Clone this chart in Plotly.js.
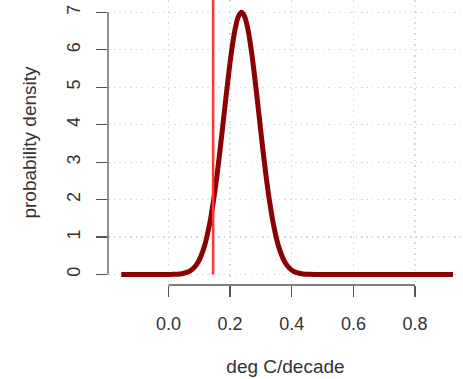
<!DOCTYPE html>
<html>
<head>
<meta charset="utf-8">
<script src="https://cdn.plot.ly/plotly-3.0.1.min.js"></script>
<style>html,body{margin:0;padding:0;background:#fff;}#chart{width:463px;height:379px;}</style>
</head>
<body>
<div id="chart"></div>
<script>
// Density curve
const xVals = [-0.153, -0.003, 0.017, 0.037, 0.047, 0.057, 0.067, 0.077, 0.087, 0.097, 0.107, 0.117, 0.127, 0.137, 0.147, 0.157, 0.167, 0.177, 0.187, 0.197, 0.207, 0.217, 0.227, 0.237, 0.247, 0.257, 0.267, 0.277, 0.287, 0.297, 0.307, 0.317, 0.327, 0.337, 0.347, 0.357, 0.367, 0.377, 0.387, 0.397, 0.407, 0.417, 0.427, 0.437, 0.457, 0.477, 0.923];
const density = [0, 0.001, 0.004, 0.015, 0.027, 0.048, 0.082, 0.136, 0.22, 0.34, 0.52, 0.76, 1.09, 1.50, 2.01, 2.61, 3.29, 4.02, 4.76, 5.47, 6.09, 6.58, 6.89, 7.0, 6.89, 6.58, 6.09, 5.47, 4.76, 4.02, 3.29, 2.61, 2.01, 1.50, 1.09, 0.76, 0.52, 0.34, 0.22, 0.136, 0.082, 0.048, 0.027, 0.015, 0.004, 0.001, 0];
const markerX = 0.145;
const markerY = [0, 8];
const xTicks = [0, 0.2, 0.4, 0.6, 0.8];
const xTickText = ["0.0", "0.2", "0.4", "0.6", "0.8"];
const yTicks = [0, 1, 2, 3, 4, 5, 6, 7];
const yTickText = ["0", "1", "2", "3", "4", "5", "6", "7"];
const xTitle = "deg C/decade";
const yTitle = "probability density";

const FONT = "Liberation Sans, Arial, sans-serif";
const axisColor = "#555";
const textColor = "#333";

const traces = [
  {x: xVals, y: density, type: "scatter", mode: "lines", line: {color: "#8b0000", width: 5, shape: "spline"}, hoverinfo: "skip"},
  {x: [markerX, markerX], y: markerY, type: "scatter", mode: "lines", line: {color: "#ff3333", width: 2.5}, hoverinfo: "skip"}
];

const gridDash = "1.5px,4px";

const layout = {
  width: 463, height: 379,
  margin: {l: 108, r: 0, t: 0, b: 94},
  paper_bgcolor: "#fff", plot_bgcolor: "#fff",
  showlegend: false,
  font: {family: FONT, size: 19, color: textColor},
  xaxis: {
    range: [-0.196, 0.9555], tickvals: xTicks, ticktext: xTickText,
    showgrid: true, gridcolor: "#d8d8d8", griddash: gridDash, gridwidth: 1.2,
    zeroline: false, showline: false,
    ticks: "outside", ticklen: 11, tickwidth: 1.3, tickcolor: axisColor,
    ticklabelstandoff: 11,
    tickfont: {family: FONT, size: 18, color: textColor},
    title: {text: xTitle, font: {family: FONT, size: 19, color: textColor}, standoff: 27}
  },
  yaxis: {
    range: [-0.28, 7.33], tickvals: yTicks, ticktext: yTickText,
    showgrid: true, gridcolor: "#d8d8d8", griddash: gridDash, gridwidth: 1.2,
    zeroline: false, showline: false,
    ticks: "outside", ticklen: 11, tickwidth: 1.3, tickcolor: axisColor,
    tickangle: -90, ticklabelstandoff: 9,
    tickfont: {family: FONT, size: 18, color: textColor},
    title: {text: yTitle, font: {family: FONT, size: 19, color: textColor}, standoff: 22}
  },
  shapes: [
    {type: "line", xref: "x", yref: "paper", x0: xTicks[0], x1: xTicks[xTicks.length-1], y0: 0, y1: 0, line: {color: axisColor, width: 1.3}},
    {type: "line", xref: "paper", yref: "y", x0: 0, x1: 0, y0: yTicks[0], y1: yTicks[yTicks.length-1], line: {color: axisColor, width: 1.3}}
  ]
};

Plotly.newPlot("chart", traces, layout, {staticPlot: true, displayModeBar: false});
</script>
</body>
</html>
